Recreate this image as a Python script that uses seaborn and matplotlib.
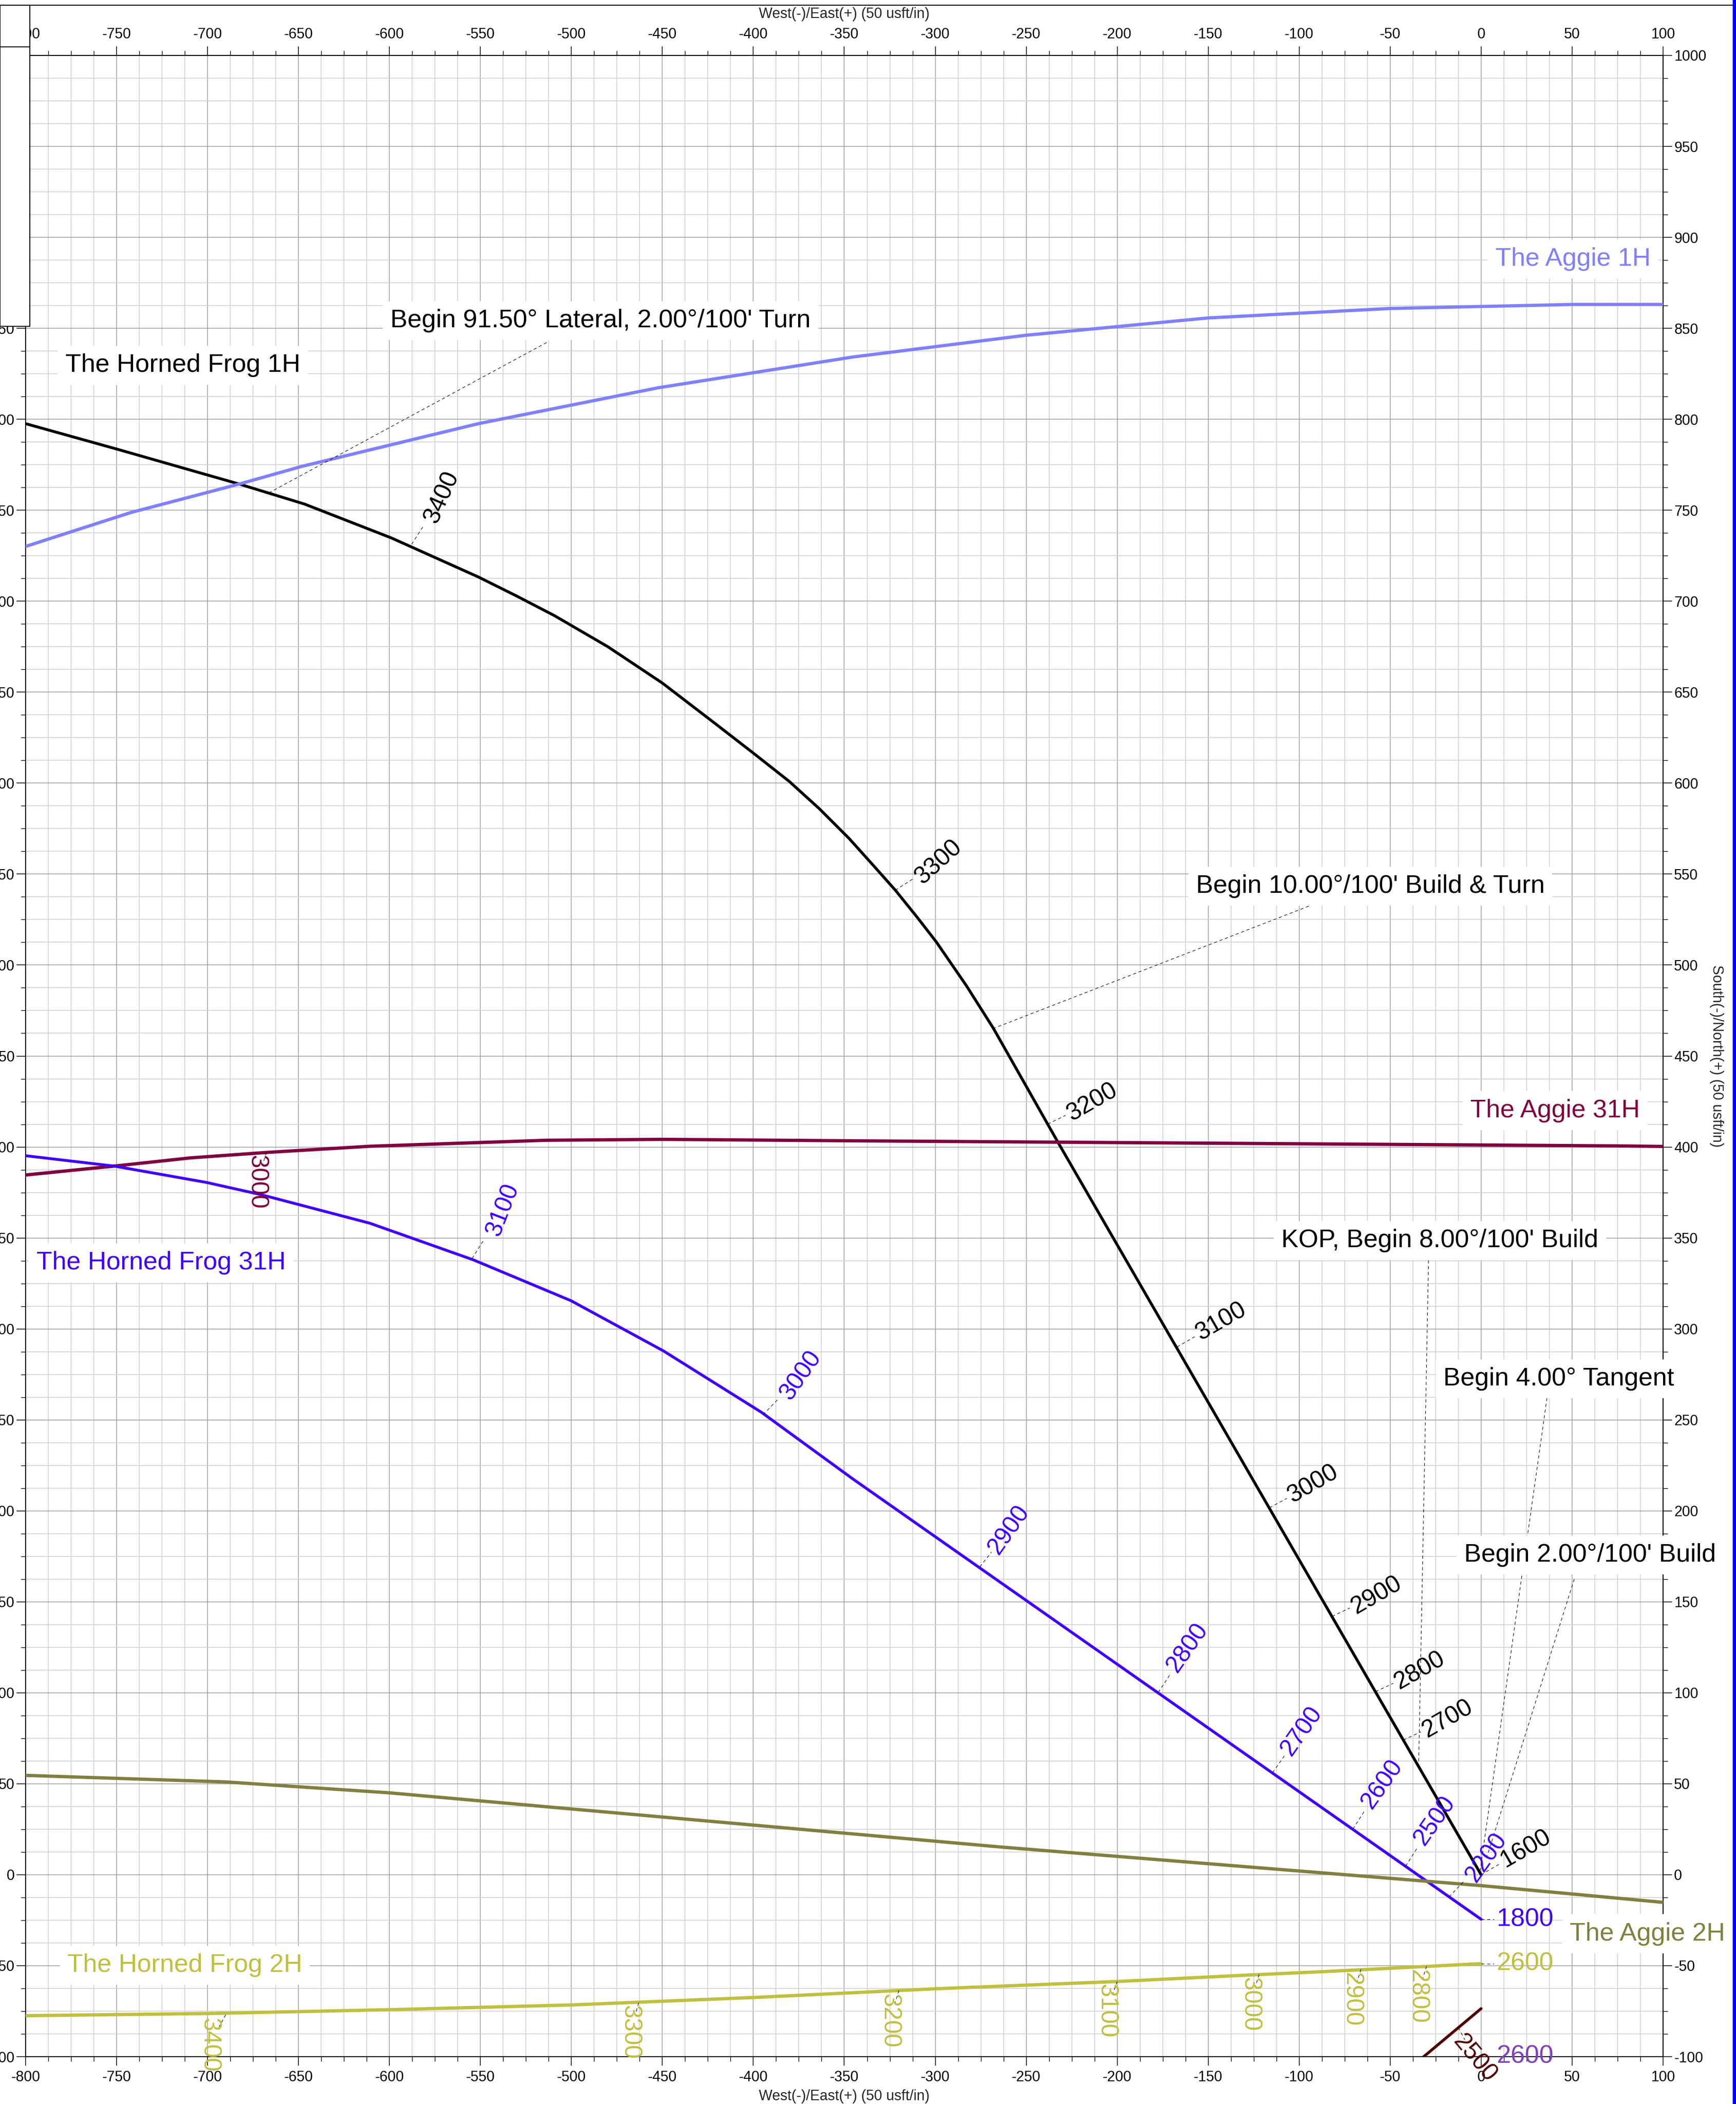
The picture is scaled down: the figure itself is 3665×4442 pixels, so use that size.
import matplotlib
matplotlib.use("Agg")
import numpy as np
import pandas as pd
import matplotlib.pyplot as plt
import seaborn as sns
from matplotlib.ticker import MultipleLocator
from matplotlib.patches import Rectangle
from matplotlib.lines import Line2D

# ---------------------------------------------------------------
# Plan-view well paths: West(-)/East(+) and South(-)/North(+), usft
# ---------------------------------------------------------------
horned_frog_1h_ew = [0, -232.3, -268.1, -283.0, -299.5, -309.9, -321.9, -333.9, -347.3,
                     -363.8, -380.2, -400.0, -420.0, -450.0, -480.0, -509.2, -530.0,
                     -551.1, -599.0, -646.7, -682.6, -749.8, -800.0]
horned_frog_1h_ns = [0, 402.1, 465.3, 488.8, 512.8, 526.2, 541.1, 554.6, 569.5,
                     586.0, 600.9, 616.5, 632.0, 655.0, 675.0, 692.0, 702.8,
                     713.3, 734.8, 753.4, 764.4, 783.6, 797.6]

aggie_1h_ew = [-800, -742.3, -682.6, -648.2, -551.1, -452.4, -345.5, -250, -150, -50, 50, 100]
aggie_1h_ns = [730.1, 748.7, 764.4, 774.1, 797.6, 817.3, 834.2, 846.2, 855.7, 860.9, 863.1, 863.1]

aggie_31h_ew = [-800, -751.3, -709.5, -667.6, -610.8, -513.7, -449.4, -345.4, 74.4, 100]
aggie_31h_ns = [384.6, 389.5, 394.0, 397.0, 400.4, 403.7, 404.2, 403.4, 400.6, 400.3]

horned_frog_31h_ew = [0, -345.4, -395.6, -449.4, -500.2, -554.0, -610.8, -670.6, -700.5, -751.3, -800]
horned_frog_31h_ns = [-24.5, 217.6, 254.2, 287.9, 315.5, 338.0, 358.1, 373.8, 380.5, 389.5, 395.2]

aggie_2h_ew = [-800, -690, -600, -262.6, 0, 100]
aggie_2h_ns = [54.6, 51.0, 45.0, 15.1, -6.0, -15.2]

horned_frog_2h_ew = [-800, -700, -600, -500, -400, -300, -200, -127, -85, 0]
horned_frog_2h_ns = [-77.5, -76.3, -74.2, -71.6, -67.5, -62.7, -58.7, -55.1, -53.2, -48.9]

offset_well_ew = [0, -32.0]
offset_well_ns = [-73.6, -100.4]

well_names = ["The Horned Frog 1H", "The Aggie 1H", "The Aggie 31H",
              "The Horned Frog 31H", "The Aggie 2H", "The Horned Frog 2H", "Offset"]
well_colors = ["#000000", "#8080ff", "#800040", "#4000ff", "#808040", "#c0c040", "#500000"]
well_widths = [4.3, 4.9, 5.0, 4.3, 5.0, 5.0, 4.3]
well_paths = [(horned_frog_1h_ew, horned_frog_1h_ns), (aggie_1h_ew, aggie_1h_ns),
              (aggie_31h_ew, aggie_31h_ns), (horned_frog_31h_ew, horned_frog_31h_ns),
              (aggie_2h_ew, aggie_2h_ns), (horned_frog_2h_ew, horned_frog_2h_ns),
              (offset_well_ew, offset_well_ns)]

# Measured-depth tick labels: (text, point on path, label centre, rotation)
hf1h_md = [("3400", (-587.8, 731.3), (-571.2, 757.1), 66),
           ("3300", (-322.0, 541.1), (-298.3, 556.4), 42),
           ("3200", (-238.2, 412.6), (-213.7, 424.6), 30),
           ("3100", (-167.1, 290.1), (-142.9, 304.1), 30),
           ("3000", (-116.3, 201.7), (-92.5, 214.6), 30),
           ("2900", (-81.9, 142.0), (-57.6, 153.5), 30),
           ("2800", (-58.0, 100.6), (-33.7, 112.1), 30),
           ("2700", (-42.7, 74.0), (-18.5, 85.5), 30),
           ("1600", (0.0, 0.0), (24.3, 14.1), 30)]
hf31h_md = [("3100", (-554.6, 338.7), (-537.8, 365.3), 69),
            ("3000", (-394.6, 252.8), (-374.0, 274.4), 55),
            ("2900", (-275.5, 169.2), (-259.5, 189.5), 55),
            ("2800", (-177.4, 100.2), (-161.4, 124.7), 55),
            ("2700", (-114.6, 56.1), (-98.6, 78.9), 55),
            ("2600", (-70.5, 25.1), (-54.5, 49.8), 55),
            ("2500", (-41.5, 4.7), (-25.5, 29.7), 55),
            ("2200", (-17.6, -12.2), (2.9, 9.4), 55)]
hf2h_md = [("3400", (-690.0, -77.0), (-699.0, -93.4), 270),
           ("3300", (-463.0, -70.4), (-467.8, -86.5), 270),
           ("3200", (-320.0, -63.6), (-325.0, -80.3), 270),
           ("3100", (-200.0, -58.7), (-205.9, -74.8), 270),
           ("3000", (-122.0, -54.8), (-127.0, -71.2), 270),
           ("2900", (-66.0, -52.0), (-71.3, -68.6), 270),
           ("2800", (-30.0, -50.3), (-35.1, -67.1), 270)]
a31h_md = [("3000", (-667.6, 397.0), (-672.8, 380.8), 270)]
offset_md = [("2500", (-12.5, -84.0), (-3.6, -101.0), -50)]

# Start-of-path depth labels: (text, path point, colour)
start_labels = [("1800", (0.0, -24.5), "#4000ff"),
                ("2600", (0.0, -48.9), "#c0c040"),
                ("2600", (0.0, -100.0), "#8040c0")]

# Well name labels: (text, centre, colour)
name_labels = [("The Horned Frog 1H", (-713.6, 829.6), "#000000"),
               ("The Aggie 1H", (50.5, 888.0), "#8080ff"),
               ("The Aggie 31H", (40.7, 420.0), "#800040"),
               ("The Horned Frog 31H", (-725.5, 336.4), "#4000ff"),
               ("The Aggie 2H", (91.4, -32.5), "#808040"),
               ("The Horned Frog 2H", (-712.5, -49.7), "#c0c040")]

# Design annotations: (text, centre, leader start, leader end)
design_notes = [("Begin 91.50° Lateral, 2.00°/100' Turn", (-484.0, 854.2), (-513.6, 842.2), (-666.0, 759.7)),
                ("Begin 10.00°/100' Build & Turn", (-60.9, 543.4), (-94.7, 532.4), (-268.0, 465.2)),
                ("KOP, Begin 8.00°/100' Build", (-22.6, 348.6), (-28.9, 337.7), (-34.3, 62.0)),
                ("Begin 4.00° Tangent", (42.7, 272.6), (36.2, 262.0), (-0.5, 2.5)),
                ("Begin 2.00°/100' Build", (60.0, 175.7), (51.2, 162.5), (2.6, 8.0))]

# ---------------------------------------------------------------
sns.set_theme(style="white")
plt.rcParams['font.family'] = ['Liberation Sans', 'DejaVu Sans']
plt.rcParams['axes.unicode_minus'] = False

W, H = 3666, 4442
fig = plt.figure(figsize=(W / 100, H / 100), dpi=100)
ax_l, ax_r, ax_t, ax_b = 54, 3511, 117, 4342
ax = fig.add_axes([ax_l / W, 1 - ax_b / H, (ax_r - ax_l) / W, (ax_b - ax_t) / H])

frames = []
for name, (ew, ns) in zip(well_names, well_paths):
    frames.append(pd.DataFrame({"well": name, "ew": ew, "ns": ns, "step": range(len(ew))}))
paths = pd.concat(frames, ignore_index=True)

for name, color, lw in zip(well_names, well_colors, well_widths):
    sns.lineplot(data=paths[paths.well == name], x="ew", y="ns", sort=False,
                 estimator=None, color=color, linewidth=lw, ax=ax, legend=False,
                 zorder=4, solid_capstyle="round", solid_joinstyle="round")

ax.set_xlim(-800, 100)
ax.set_ylim(-100, 1000)
ax.set_xlabel("")
ax.set_ylabel("")

ax.xaxis.set_major_locator(MultipleLocator(50))
ax.yaxis.set_major_locator(MultipleLocator(50))
ax.xaxis.set_minor_locator(MultipleLocator(12.5))
ax.yaxis.set_minor_locator(MultipleLocator(12.5))
ax.grid(which="major", color="#9c9c9c", lw=1.1, zorder=0)
ax.grid(which="minor", color="#d2d2d2", lw=1.2, zorder=0)
ax.set_axisbelow(True)

ax.tick_params(which="both", direction="out", top=True, right=True, left=True, bottom=True,
               labeltop=True, labelright=True, colors="black")
ax.tick_params(which="major", length=13.7, width=1.1, labelsize=22)
ax.tick_params(which="minor", length=7, width=1.0)
ax.tick_params(axis="x", which="major", pad=7)
ax.tick_params(axis="y", which="major", pad=3)
for sp in ax.spines.values():
    sp.set_visible(True)
    sp.set_color("black")
    sp.set_linewidth(1.5)

dash = (0, (6, 5))


def md_labels(entries, color):
    for txt, (px, py), (cx, cy), rot in entries:
        lx = px + 0.4 * (cx - px)
        ly = py + 0.4 * (cy - py)
        ax.plot([px, lx], [py, ly], color="black", lw=0.8, ls=dash, zorder=5)
        ax.text(cx, cy, txt, color=color, fontsize=37, rotation=rot,
                ha="center", va="center", zorder=6, clip_on=False)


md_labels(hf1h_md, "#000000")
md_labels(hf31h_md, "#4000ff")
md_labels(hf2h_md, "#c0c040")
md_labels(a31h_md, "#800040")
md_labels(offset_md, "#500000")

for txt, (px, py), color in start_labels:
    ax.plot([px, px + 7], [py, py], color="black", lw=0.8, ls=dash, zorder=5)
    ax.text(px + 8.5, py, txt, color=color, fontsize=39, ha="left", va="center",
            zorder=6, clip_on=False)

box = dict(boxstyle="square,pad=0.3", fc="white", ec="none")
for txt, (cx, cy), color in name_labels:
    ax.text(cx, cy, txt, color=color, fontsize=39, ha="center", va="center",
            bbox=box, zorder=7, clip_on=False)

for txt, (cx, cy), (sx, sy), (ex, ey) in design_notes:
    ax.plot([sx, ex], [sy, ey], color="black", lw=0.8, ls=dash, zorder=5)
    ax.text(cx, cy, txt, color="black", fontsize=39, ha="center", va="center",
            bbox=box, zorder=7, clip_on=False)

# Axis titles on all sides
axis_cx = (ax_l + ax_r) / 2 / W
fig.text(axis_cx, 1 - 30 / H, "West(-)/East(+) (50 usft/in)", fontsize=22,
         ha="center", va="center")
fig.text(axis_cx, 1 - 4426 / H, "West(-)/East(+) (50 usft/in)", fontsize=22,
         ha="center", va="center")
fig.text(3624 / W, 1 - (ax_t + ax_b) / 2 / H, "South(-)/North(+) (50 usft/in)",
         fontsize=22, rotation=270, ha="center", va="center")

# Sheet frame pieces around the plot
fig.add_artist(Rectangle((0, 1 - 689 / H), 63 / W, (689 - 10.5) / H,
                         transform=fig.transFigure, fc="white", ec="black",
                         lw=1.5, zorder=20))
fig.add_artist(Line2D([0, 63 / W], [1 - 99 / H] * 2, transform=fig.transFigure,
                      color="black", lw=1.5, zorder=21))
fig.add_artist(Line2D([0, 3658 / W], [1 - 10.5 / H] * 2, transform=fig.transFigure,
                      color="black", lw=1.5, zorder=21))
fig.add_artist(Rectangle((3658 / W, 0), 8 / W, 1, transform=fig.transFigure,
                         fc="#0000ff", ec="none", zorder=21))

fig.savefig("out.png", dpi=100, facecolor="white")
